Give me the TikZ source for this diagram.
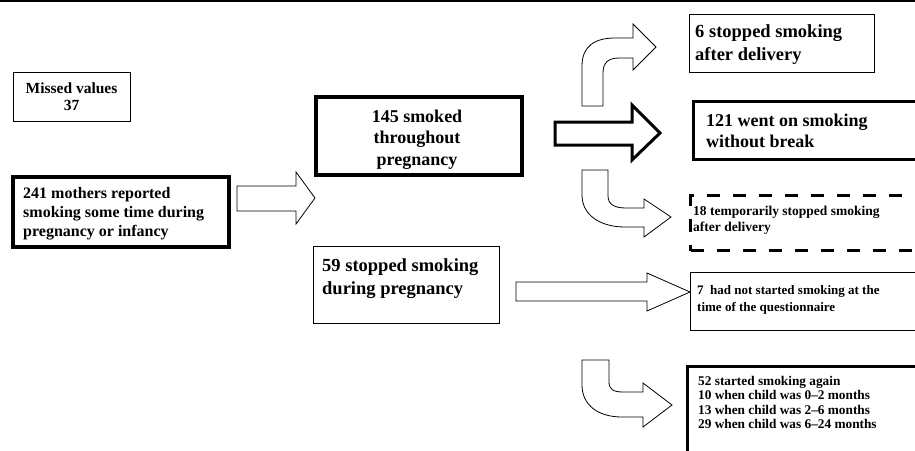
\documentclass[tikz,border=0pt]{standalone}
\usepackage{fontspec}
\setmainfont{Liberation Serif}
\begin{document}
\begin{tikzpicture}[x=1pt,y=-1pt,
  thinbox/.style={draw, line width=0.8pt, anchor=north west, inner sep=0pt},
  thickbox/.style={draw, line width=3pt, anchor=north west, inner sep=0pt},
  dashbox/.style={draw, line width=3pt, dash pattern=on 13pt off 13pt, anchor=north west, inner sep=0pt},
  blockarrow/.style={draw, line width=0.8pt, line join=miter, fill=white},
  heavyarrow/.style={draw, line width=3pt, line join=miter, fill=white},
  lbl/.style={inner sep=0pt, align=left, anchor=base west},
]
\clip (0,0) rectangle (915,450);
\draw[line width=2pt] (0,1) -- (915,1);

% boxes
\node[thinbox, minimum width=117pt, minimum height=49pt] (missed) at (13,72) {};
\node[thickbox, line width=3.5pt, minimum width=216pt, minimum height=70pt] (start) at (11,175) {};
\node[thickbox, line width=3.5pt, minimum width=206pt, minimum height=78pt] (through) at (314,95) {};
\node[thinbox, minimum width=185pt, minimum height=58pt] (stopdel) at (689,14) {};
\node[thickbox, minimum width=260pt, minimum height=58pt] (wenton) at (692,100) {};
\node[dashbox, minimum width=260pt, minimum height=55pt] (temp) at (689,194) {};
\node[thinbox, minimum width=186pt, minimum height=77pt] (stoppreg) at (313,246) {};
\node[thinbox, minimum width=260pt, minimum height=58pt] (notstart) at (690,272) {};
\node[thickbox, minimum width=260pt, minimum height=120pt] (again) at (686,365) {};

% texts (anchor = baseline of the last line)
\node[lbl, anchor=base, align=center, font=\fontsize{15.5}{17}\selectfont\bfseries] (missedtxt) at (71.5,110) {Missed values\\37};
\node[lbl, font=\fontsize{16}{19}\selectfont\bfseries] (starttxt) at (23,236) {241 mothers reported\\smoking some time during\\pregnancy or infancy};
\node[lbl, anchor=base, align=center, font=\fontsize{18}{21.5}\selectfont\bfseries] (throughtxt) at (417,165) {145 smoked\\throughout\\pregnancy};
\node[lbl, font=\fontsize{18.5}{23}\selectfont\bfseries] (stopdeltxt) at (695,60) {6 stopped smoking\\after delivery};
\node[lbl, font=\fontsize{18}{21}\selectfont\bfseries] (wentontxt) at (706,147) {121 went on smoking\\without break};
\node[lbl, font=\fontsize{13.5}{16}\selectfont\bfseries] (temptxt) at (693,231) {18 temporarily stopped smoking\\after delivery};
\node[lbl, font=\fontsize{18.5}{23}\selectfont\bfseries] (stoppregtxt) at (322,294) {59 stopped smoking\\during pregnancy};
\node[lbl, font=\fontsize{13}{17}\selectfont\bfseries] (notstarttxt) at (697,311) {7\ \ had not started smoking at the\\time of the questionnaire};
\node[lbl, font=\fontsize{13.3}{14.5}\selectfont\bfseries] (againtxt) at (698,428.5) {52 started smoking again\\10 when child was 0--2 months\\13 when child was 2--6 months\\29 when child was 6--24 months};

% block arrows
\draw[blockarrow] (237,186) -- (296,186) -- (296,172) -- (315,198) -- (296,224) -- (296,211) -- (237,211) -- cycle;
\draw[heavyarrow] (555,122) -- (632,122) -- (632,105) -- (660,133) -- (632,160) -- (632,145) -- (555,145) -- cycle;
\draw[blockarrow] (516,282) -- (647,282) -- (647,273) -- (690,292) -- (647,311) -- (647,301) -- (516,301) -- cycle;
% curved up
\draw[blockarrow] (582,106) -- (582,66) .. controls (582,46) and (595,38) .. (615,38) -- (633,38) -- (633,24) -- (656,47) -- (633,70) -- (633,58) -- (619,58) .. controls (608,58) and (603,63) .. (603,73) -- (603,106) -- cycle;
% curved down 1
\draw[blockarrow] (582,170) -- (582,195) .. controls (582,215) and (600,227) .. (625,227) -- (644,227) -- (644,237) -- (671,217) -- (644,199) -- (644,208) -- (626,208) .. controls (614,208) and (608,204) .. (608,196) -- (608,170) -- cycle;
% curved down 2
\draw[blockarrow] (582,360) -- (582,385) .. controls (582,405) and (598,417) .. (622,417) -- (643,417) -- (643,427) -- (672,405) -- (643,383) -- (643,392) -- (623,392) .. controls (613,392) and (609,389) .. (609,382) -- (609,360) -- cycle;
\end{tikzpicture}
\end{document}
